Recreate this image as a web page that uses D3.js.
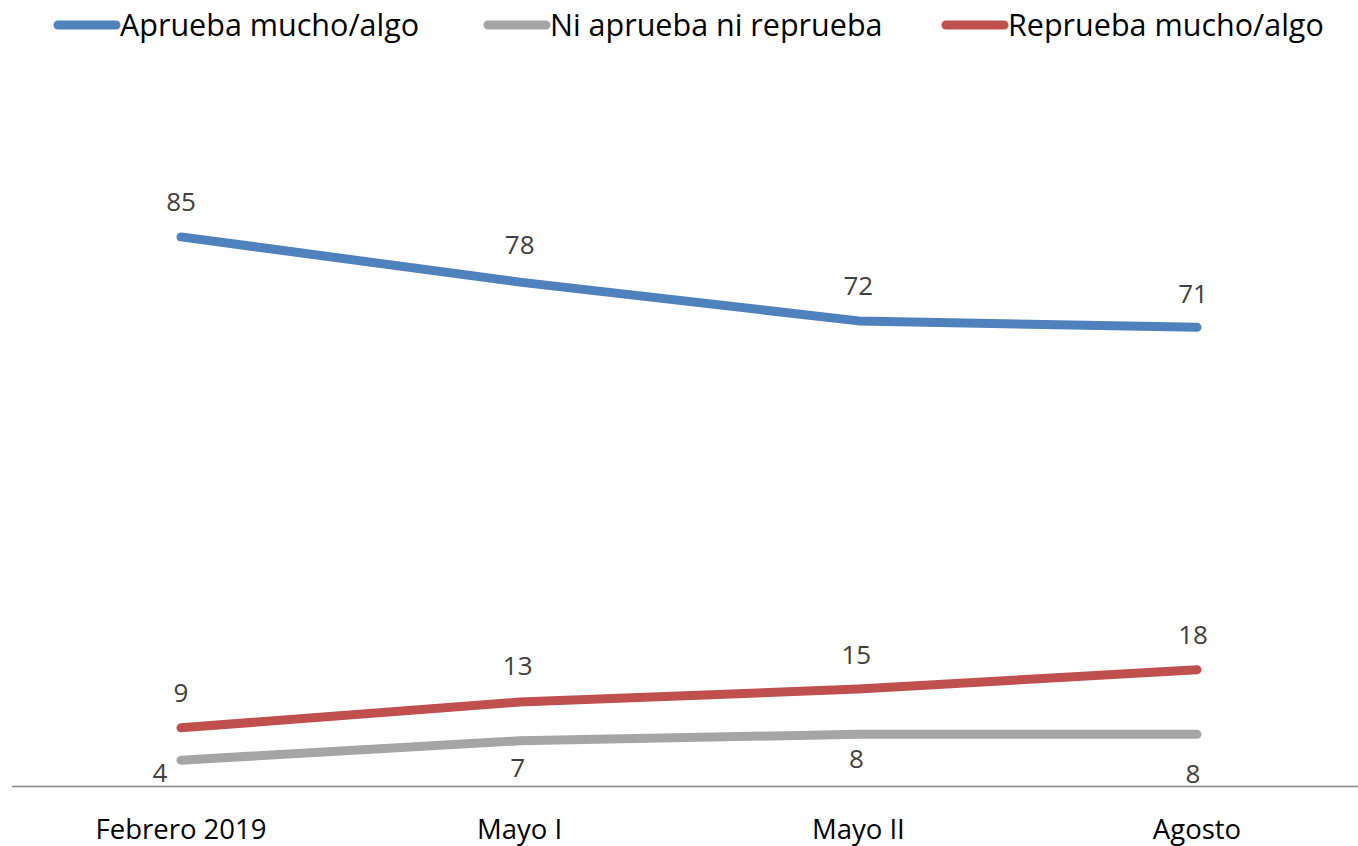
<!DOCTYPE html>
<html>
    <head>
        <meta charset="utf-8" />
        <script src="https://d3js.org/d3.v7.min.js"></script>
        <style>
            body { margin: 0; background: #fff; }
            text { font-family: 'Open Sans', 'Noto Sans', sans-serif; }
        </style>
    </head>
    <body>
        <svg width="1358" height="846"></svg>
        <script>
            const categories = ['Febrero 2019', 'Mayo I', 'Mayo II', 'Agosto']
            const seriesNames = ['Aprueba mucho/algo', 'Ni aprueba ni reprueba', 'Reprueba mucho/algo']
            const aprueba = [85, 78, 72, 71]
            const ni = [4, 7, 8, 8]
            const reprueba = [9, 13, 15, 18]
            const colors = ['#4F81BD', '#A5A5A5', '#C0504D']

            // label placement (dx, dy from point), like the hand-moved excel labels
            const labelOffsets = [
                [[0, -35], [0, -37], [0, -35], [-4, -34]],
                [[-21, 12], [-2, 27], [-2, 24], [-4, 39]],
                [[0, -35], [-2, -36], [-2, -34], [-4, -35]],
            ]

            const series = [aprueba, ni, reprueba].map((vals, i) => ({
                name: seriesNames[i],
                color: colors[i],
                values: vals,
                offsets: labelOffsets[i],
            }))

            const svg = d3.select('svg')

            const x = d3.scalePoint().domain(categories).range([181, 1197])
            const y = d3.scaleLinear().domain([0, 100]).range([786, 140])

            // axis line
            svg.append('line')
                .attr('x1', 12).attr('x2', 1358)
                .attr('y1', 786.5).attr('y2', 786.5)
                .attr('stroke', '#868686')
                .attr('stroke-width', 1.3)

            svg.selectAll('.xlab')
                .data(categories)
                .enter()
                .append('text')
                .attr('class', 'xlab')
                .attr('x', (d) => x(d))
                .attr('y', 839)
                .attr('text-anchor', 'middle')
                .attr('font-size', 27.5)
                .attr('fill', '#000')
                .text((d) => d)

            const line = d3.line()
                .x((d, i) => x(categories[i]))
                .y((d) => y(d))

            const g = svg.selectAll('.series')
                .data(series)
                .enter()
                .append('g')

            g.append('path')
                .attr('d', (d) => line(d.values))
                .attr('fill', 'none')
                .attr('stroke', (d) => d.color)
                .attr('stroke-width', 9)
                .attr('stroke-linecap', 'round')
                .attr('stroke-linejoin', 'round')

            g.selectAll('.lab')
                .data((d) => d.values.map((v, i) => ({ v, i, off: d.offsets[i] })))
                .enter()
                .append('text')
                .attr('x', (d) => x(categories[d.i]) + d.off[0])
                .attr('y', (d) => y(d.v) + d.off[1])
                .attr('dy', '0.36em')
                .attr('text-anchor', 'middle')
                .attr('font-size', 26)
                .attr('fill', '#404040')
                .text((d) => d.v)

            // legend
            const legendX = [58, 488, 946]
            const leg = svg.selectAll('.leg')
                .data(series)
                .enter()
                .append('g')
                .attr('transform', (d, i) => `translate(${legendX[i]},25)`)

            leg.append('line')
                .attr('x1', 0).attr('x2', 58)
                .attr('stroke', (d) => d.color)
                .attr('stroke-width', 9)
                .attr('stroke-linecap', 'round')

            leg.append('text')
                .attr('x', 62)
                .attr('dy', '0.36em')
                .attr('font-size', 30.5)
                .attr('fill', '#000')
                .text((d) => d.name)
        </script>
    </body>
</html>
